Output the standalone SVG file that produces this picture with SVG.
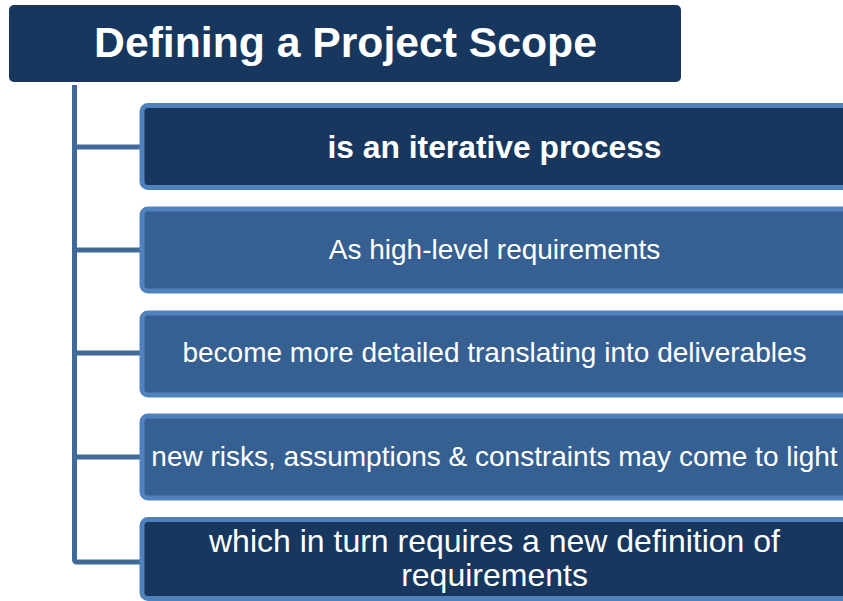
<svg xmlns="http://www.w3.org/2000/svg" width="843" height="601" viewBox="0 0 843 601">
<style>
.box{stroke:#4F81BD;stroke-width:5}
.dark{fill:#17375E}
.mid{fill:#366092}
.t{font-family:"Liberation Sans",Arial,sans-serif;fill:#FFFFFF;text-anchor:middle}
.n{font-size:28px}
.l{font-size:32px}
.b{font-size:31.8px;font-weight:bold}
.con{stroke:#41699A;stroke-width:5;fill:none}
</style>
<rect width="843" height="601" fill="#FFFFFF"/>
<g id="connectors">
<path class="con" d="M74.5,85 V560 a2,2 0 0 0 2,2 H142"/>
<line class="con" x1="74.5" y1="147" x2="142" y2="147"/>
<line class="con" x1="74.5" y1="250" x2="142" y2="250"/>
<line class="con" x1="74.5" y1="353" x2="142" y2="353"/>
<line class="con" x1="74.5" y1="457" x2="142" y2="457"/>
</g>
<g id="title">
<rect x="9" y="5" width="672" height="77" rx="5" class="dark"/>
<text class="t" x="345.5" y="57" style="font-size:42.7px;font-weight:bold">Defining a Project Scope</text>
</g>
<g id="n1">
<rect x="142" y="105.5" width="706" height="82" rx="6" class="box dark"/>
<text class="t b" x="494.5" y="158">is an iterative process</text>
</g>
<g id="n2">
<rect x="142" y="209" width="706" height="82" rx="6" class="box mid"/>
<text class="t n" x="494.5" y="259">As high-level requirements</text>
</g>
<g id="n3">
<rect x="142" y="313" width="706" height="82" rx="6" class="box mid"/>
<text class="t n" x="494.5" y="362">become more detailed translating into deliverables</text>
</g>
<g id="n4">
<rect x="142" y="416" width="706" height="82" rx="6" class="box mid"/>
<text class="t n" x="494.5" y="466">new risks, assumptions &amp; constraints may come to light</text>
</g>
<g id="n5">
<rect x="142" y="519.5" width="706" height="79" rx="6" class="box dark"/>
<text class="t l" x="494.5" y="552">which in turn requires a new definition of</text>
<text class="t l" x="494.5" y="586">requirements</text>
</g>
</svg>
